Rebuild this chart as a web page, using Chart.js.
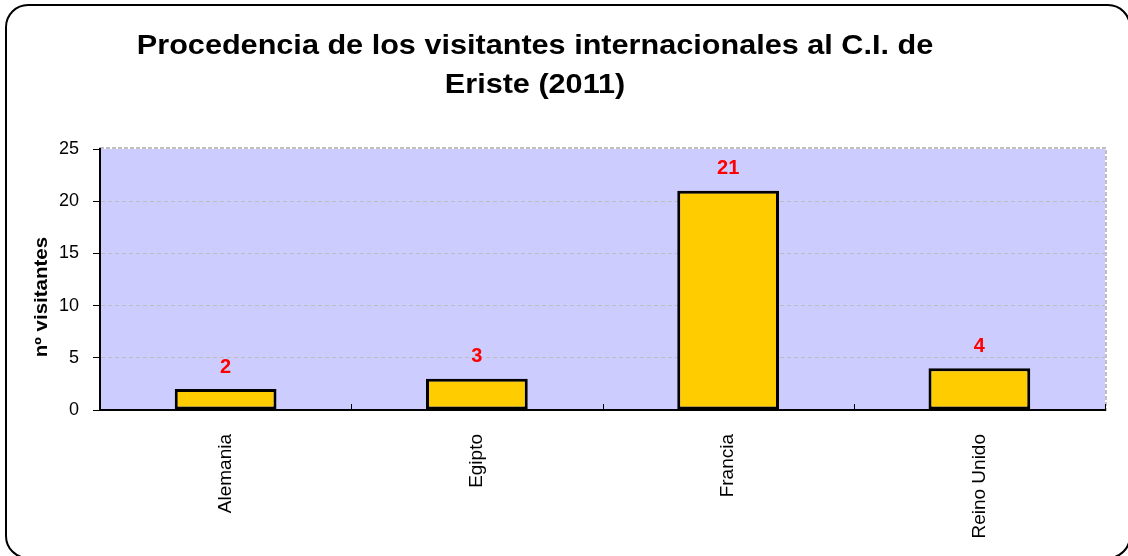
<!DOCTYPE html>
<html lang="es">
<head>
    <meta charset="UTF-8">
    <title>Procedencia de los visitantes internacionales</title>
    <script src="https://cdn.jsdelivr.net/npm/chart.js"></script>
    <style>
        html, body { margin: 0; padding: 0; background: #fff; }
        #wrap { width: 1128px; height: 556px; }
    </style>
</head>
<body>
<div id="wrap"><canvas id="chart" width="1128" height="556"></canvas></div>
<script>
const paises = ["Alemania", "Egipto", "Francia", "Reino Unido"];
const visitantes = [2, 3, 21, 4];
const yTicks = [0, 5, 10, 15, 20, 25];
const titulo = ["Procedencia de los visitantes internacionales al C.I. de", "Eriste (2011)"];
const tituloEje = "nº visitantes";

const FONT = "Arial, 'Liberation Sans', sans-serif";

// background, frame, titles, inner x ticks, value labels
const decor = {
    id: "decor",
    beforeDraw(chart) {
        const ctx = chart.ctx, a = chart.chartArea;
        ctx.save();
        ctx.fillStyle = "#fff";
        ctx.fillRect(0, 0, chart.width, chart.height);
        // outer rounded frame
        ctx.beginPath();
        ctx.roundRect(6, 5, 1124, 553, 22);
        ctx.lineWidth = 2;
        ctx.strokeStyle = "#000";
        ctx.stroke();
        // plot area
        ctx.fillStyle = "#ccccff";
        ctx.fillRect(a.left, a.top, a.right - a.left, a.bottom - a.top);
        ctx.setLineDash([4, 2]);
        ctx.lineWidth = 2;
        ctx.strokeStyle = "#c0c0c0";
        ctx.strokeRect(a.left, a.top - 1, a.right - a.left + 1, a.bottom - a.top + 1);
        ctx.setLineDash([]);
        // title (Excel-like wide rendering)
        ctx.fillStyle = "#000";
        ctx.font = "bold 27px " + FONT;
        ctx.textAlign = "center";
        ctx.textBaseline = "middle";
        ctx.save();
        ctx.translate(535, 0);
        ctx.scale(1.134, 1);
        ctx.fillText(titulo[0], 0, 47);
        ctx.fillText(titulo[1], 0, 86);
        ctx.restore();
        // y axis title
        ctx.translate(42, 297);
        ctx.rotate(-Math.PI / 2);
        ctx.scale(1.14, 1);
        ctx.font = "bold 18px " + FONT;
        ctx.fillText(tituloEje, 0, 0);
        ctx.restore();
    },
    afterDatasetsDraw(chart) {
        const ctx = chart.ctx, a = chart.chartArea;
        const x = chart.scales.x;
        ctx.save();
        // small inner ticks between categories
        ctx.strokeStyle = "#000";
        ctx.lineWidth = 1;
        for (let i = 0; i <= paises.length; i++) {
            const px = Math.round(x.getPixelForValue(i - 0.5)) + 0.5;
            ctx.beginPath();
            ctx.moveTo(px, a.bottom);
            ctx.lineTo(px, a.bottom - 6);
            ctx.stroke();
        }
        // value labels
        const meta = chart.getDatasetMeta(0);
        ctx.fillStyle = "#ff0000";
        ctx.font = "bold 20px " + FONT;
        ctx.textAlign = "center";
        ctx.textBaseline = "middle";
        meta.data.forEach((bar, i) => {
            ctx.fillText(String(visitantes[i]), bar.x, bar.y - 22);
        });
        ctx.restore();
    }
};

new Chart(document.getElementById("chart"), {
    type: "bar",
    data: {
        labels: paises,
        datasets: [{
            data: visitantes,
            backgroundColor: "#ffcc00",
            borderColor: "#000",
            borderWidth: 3,
            borderSkipped: false,
            categoryPercentage: 1,
            barPercentage: 0.405
        }]
    },
    options: {
        responsive: false,
        animation: false,
        devicePixelRatio: 1,
        layout: { padding: { left: 0, top: 149, right: 23, bottom: 0 } },
        plugins: {
            legend: { display: false },
            title: { display: false },
            tooltip: { enabled: false }
        },
        scales: {
            x: {
                afterFit(s) { s.height = 146; },
                grid: { display: false },
                border: { display: true, color: "#000", width: 2 },
                ticks: {
                    minRotation: 90,
                    maxRotation: 90,
                    padding: 16,
                    color: "#000",
                    font: { family: FONT, size: 19 }
                }
            },
            y: {
                min: 0,
                max: 25,
                afterFit(s) { s.width = 100; },
                afterBuildTicks(s) { s.ticks = yTicks.map(v => ({ value: v })); },
                grid: {
                    color: (c) => (c.tick && (c.tick.value === 0 || c.tick.value === 25)) ? "rgba(0,0,0,0)" : "#bdbdbd",
                    tickColor: "#000",
                    tickLength: 7,
                    lineWidth: 1
                },
                border: { display: true, color: "#000", width: 2, dash: [4, 3] },
                ticks: {
                    padding: 14,
                    color: "#000",
                    font: { family: FONT, size: 18 }
                }
            }
        }
    },
    plugins: [decor]
});
</script>
</body>
</html>
